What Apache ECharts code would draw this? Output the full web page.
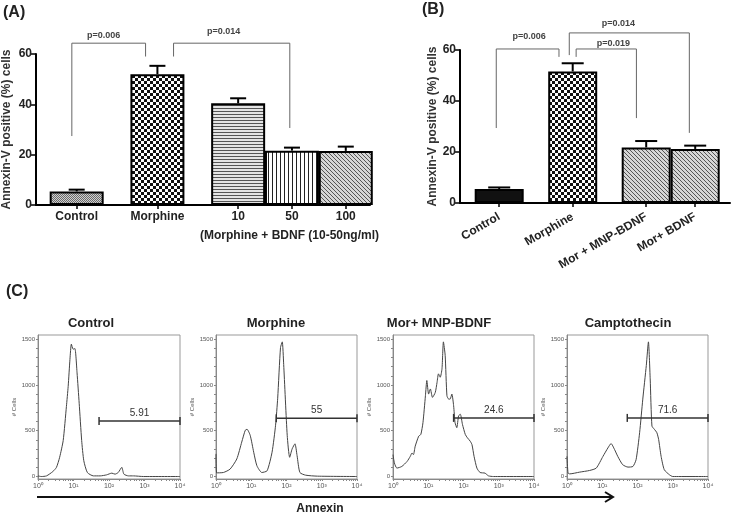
<!DOCTYPE html>
<html>
<head>
<meta charset="utf-8">
<script src="https://cdn.jsdelivr.net/npm/echarts@6/dist/echarts.min.js"></script>
<style>
  html, body { margin: 0; padding: 0; background: #fff; }
  #chart { width: 736px; height: 514px; }
</style>
</head>
<body>
<div id="chart"></div>
<script>
// ---- data ----
// (A) Annexin-V positive cells, mean and SEM
var catsA = ['Control', 'Morphine', '10', '50', '100'];
var meanA = [5.4, 52.0, 40.4, 21.6, 21.5];
var semA = [0.7, 3.3, 2.0, 1.2, 1.7];
var pTextA = ['p=0.006', 'p=0.014'];

// (B)
var catsB = ['Control', 'Morphine', 'Mor + MNP-BDNF', 'Mor+ BDNF'];
var meanB = [5.5, 51.6, 21.8, 21.2];
var semB = [0.6, 3.2, 2.5, 1.3];
var pTextB = ['p=0.006', 'p=0.019', 'p=0.014'];

// (C) flow histograms, x = log10(Annexin), y = # cells
var histControl = [[0,7],[0.09,0],[0.24,7],[0.42,55],[0.52,100],[0.61,210],[0.71,394],[0.8,763],[0.85,984],[0.9,1279],[0.94,1445],[0.99,1390],[1.04,1397],[1.1,1132],[1.16,800],[1.23,394],[1.29,173],[1.39,44],[1.56,7],[1.75,7],[1.93,18],[2.08,37],[2.17,26],[2.26,44],[2.36,100],[2.42,26],[2.55,7],[2.69,7],[2.97,0],[4,0]];
var histMorphine = [[0,247],[0.02,40],[0.21,44],[0.4,81],[0.59,192],[0.73,376],[0.83,505],[0.88,516],[0.97,450],[1.07,265],[1.16,118],[1.3,44],[1.45,63],[1.59,265],[1.69,560],[1.75,855],[1.83,1408],[1.88,1470],[1.92,1224],[2.02,450],[2.09,210],[2.16,302],[2.24,357],[2.3,228],[2.38,44],[2.54,15],[2.88,4],[4,0]];
var histMnp = [[0,239],[0.04,147],[0.11,92],[0.25,110],[0.4,165],[0.49,220],[0.54,257],[0.58,239],[0.63,331],[0.73,441],[0.79,460],[0.85,588],[0.92,882],[0.96,1048],[1.01,900],[1.06,956],[1.12,864],[1.2,919],[1.25,1029],[1.29,1121],[1.34,1084],[1.39,1176],[1.43,1470],[1.48,1323],[1.53,882],[1.58,845],[1.62,845],[1.67,900],[1.72,772],[1.76,588],[1.81,533],[1.86,662],[1.91,680],[1.97,570],[2.05,460],[2.11,423],[2.19,386],[2.24,349],[2.3,220],[2.38,92],[2.47,44],[2.61,37],[2.71,7],[2.85,0],[4,0]];
var histCampto = [[0,220],[0.03,37],[0.08,29],[0.36,48],[0.64,66],[0.83,92],[1.02,220],[1.16,312],[1.25,360],[1.35,294],[1.44,220],[1.58,129],[1.73,103],[1.87,110],[1.96,184],[2.06,478],[2.15,845],[2.25,1213],[2.31,1470],[2.36,1066],[2.41,551],[2.48,515],[2.55,478],[2.6,404],[2.67,220],[2.76,74],[2.91,18],[3.0,0],[4,0]];
var histTitles = ['Control', 'Morphine', 'Mor+ MNP-BDNF', 'Camptothecin'];
var gateLabels = ['5.91', '55', '24.6', '71.6'];
var gateFrom = [1.72, 1.71, 1.72, 1.71];
var gateLevel = [605, 636, 640, 640];

// ---- layout ----
var FONT = 'Liberation Sans, Arial, sans-serif';
var slotA = [0, 1.5, 3, 4, 5];      // bar slots, in bar widths
var slotB = [0, 1.5, 3, 4];
// bracket: [xLeft, xRight, yTop, yLeftEnd, yRightEnd, textX, textY]
var bracketA = [[-0.09, 1.28, 64.3, 27.4, 59, 0.5, 67.5], [1.8, 3.96, 64.3, 59, 30.6, 2.73, 69]];
var bracketB = [[-0.06, 1.22, 60.4, 29.4, 57.3, 0.61, 65.1], [1.57, 2.8, 60.4, 57.3, 33.3, 2.33, 62.4], [1.43, 3.88, 66.7, 58, 27.5, 2.43, 70.2]];
var histGrids = [[38, 142], [216, 141], [393, 141], [567, 141]];
var histTitleX = [91, 276, 439, 628];

function pattern(w, h, bg, draw) {
    var c = document.createElement('canvas');
    c.width = w; c.height = h;
    var ctx = c.getContext('2d');
    ctx.fillStyle = bg;
    ctx.fillRect(0, 0, w, h);
    draw(ctx);
    return { image: c, repeat: 'repeat' };
}
var fine = pattern(2, 2, '#cfcfcf', function (c) { c.fillStyle = '#6a6a6a'; c.fillRect(0, 0, 1, 1); c.fillRect(1, 1, 1, 1); });
var checker = pattern(6, 6, '#111', function (c) { c.fillStyle = '#fff'; c.fillRect(0, 0, 3, 3); c.fillRect(3, 3, 3, 3); });
var horiz = pattern(1, 3, '#e4e4e4', function (c) { c.fillStyle = '#555'; c.fillRect(0, 0, 1, 1); });
var vert = pattern(4, 1, '#fff', function (c) { c.fillStyle = '#222'; c.fillRect(0, 0, 1, 1); });
var hatch = pattern(4, 4, '#d6d6d6', function (c) { c.fillStyle = '#555'; for (var i = 0; i < 4; i++) c.fillRect(i, i, 1, 1); });
var fillA = [fine, checker, horiz, vert, hatch];
var fillB = ['#111', checker, hatch, hatch];

var sup = ['\u2070', '\u00b9', '\u00b2', '\u00b3', '\u2074'];
var logTicks = [];
for (var d = 0; d < 4; d++) for (var k = 1; k < 10; k++) logTicks.push(d + Math.log10(k));
logTicks.push(4);

function errRender(cap) {
    return function (params, api) {
        var a = api.coord([api.value(0), api.value(1)]);
        var b = api.coord([api.value(0), api.value(1) + api.value(2)]);
        var st = { stroke: '#000', lineWidth: 2 };
        return { type: 'group', children: [
            { type: 'line', shape: { x1: a[0], y1: a[1], x2: b[0], y2: b[1] }, style: st },
            { type: 'line', shape: { x1: b[0] - cap, y1: b[1], x2: b[0] + cap, y2: b[1] }, style: st }
        ] };
    };
}
function bracketRender(texts) {
    return function (params, api) {
        var v = [0, 1, 2, 3, 4, 5, 6].map(function (i) { return api.value(i); });
        var p1 = api.coord([v[0], v[3]]), p2 = api.coord([v[0], v[2]]);
        var p3 = api.coord([v[1], v[2]]), p4 = api.coord([v[1], v[4]]);
        var t = api.coord([v[5], v[6]]);
        return { type: 'group', children: [
            { type: 'polyline', shape: { points: [p1, p2, p3, p4] }, style: { stroke: '#666', lineWidth: 1, fill: null } },
            { type: 'text', x: t[0], y: t[1], style: { text: texts[params.dataIndex], font: 'bold 9px ' + FONT, fill: '#444', align: 'center', verticalAlign: 'middle' } }
        ] };
    };
}
function gateRender(params, api) {
    var a = api.coord([api.value(0), api.value(2)]);
    var b = api.coord([api.value(1), api.value(2)]);
    var st = { stroke: '#333', lineWidth: 1.5 };
    return { type: 'group', children: [
        { type: 'line', shape: { x1: a[0], y1: a[1], x2: b[0], y2: b[1] }, style: st },
        { type: 'line', shape: { x1: a[0], y1: a[1] - 4, x2: a[0], y2: a[1] + 4 }, style: st },
        { type: 'line', shape: { x1: b[0], y1: b[1] - 4, x2: b[0], y2: b[1] + 4 }, style: st },
        { type: 'text', x: (a[0] + b[0]) / 2, y: a[1] - 8, style: { text: gateLabels[params.seriesIndex - gateSeriesStart], font: '10px ' + FONT, fill: '#333', align: 'center', verticalAlign: 'middle' } }
    ] };
}

var boldLabel = { fontFamily: FONT, fontWeight: 'bold', fontSize: 12, color: '#222' };
var yNameStyle = { fontFamily: FONT, fontWeight: 'bold', fontSize: 12, color: '#333' };

var grids = [
    { left: 32, top: 54, width: 338, height: 151 },
    { left: 460, top: 50, width: 270, height: 153 }
];
histGrids.forEach(function (g) {
    grids.push({ left: g[0], width: g[1], top: 335, height: 144, show: true, borderColor: '#999', borderWidth: 1 });
});

var xAxes = [
    { gridIndex: 0, type: 'value', min: -0.756, max: 5.45, splitLine: { show: false },
      axisLine: { onZero: false, lineStyle: { color: '#000', width: 2 } }, axisLabel: { show: false },
      axisTick: { customValues: slotA, length: 4, lineStyle: { color: '#000', width: 1.5 } } },
    { gridIndex: 1, type: 'value', min: -0.8, max: 4.71, splitLine: { show: false },
      axisLine: { onZero: false, lineStyle: { color: '#000', width: 2 } }, axisLabel: { show: false },
      axisTick: { customValues: slotB, length: 4, lineStyle: { color: '#000', width: 1.5 } } }
];
var yAxes = [
    { gridIndex: 0, type: 'value', min: 0, max: 60, interval: 20, splitLine: { show: false },
      axisLine: { show: true, onZero: false, lineStyle: { color: '#000', width: 2 } },
      axisTick: { show: true, length: 5, lineStyle: { color: '#000', width: 1.5 } },
      axisLabel: Object.assign({ margin: 4 }, boldLabel),
      name: 'Annexin-V positive (%) cells', nameLocation: 'middle', nameGap: 23, nameTextStyle: yNameStyle },
    { gridIndex: 1, type: 'value', min: 0, max: 60, interval: 20, splitLine: { show: false },
      axisLine: { show: true, onZero: false, lineStyle: { color: '#000', width: 2 } },
      axisTick: { show: true, length: 5, lineStyle: { color: '#000', width: 1.5 } },
      axisLabel: Object.assign({ margin: 4 }, boldLabel),
      name: 'Annexin-V positive (%) cells', nameLocation: 'middle', nameGap: 20, nameTextStyle: yNameStyle }
];
histGrids.forEach(function (g, i) {
    xAxes.push({ gridIndex: i + 2, type: 'value', min: 0, max: 4, splitLine: { show: false },
        axisLine: { onZero: false, lineStyle: { color: '#888', width: 1 } },
        axisTick: { customValues: logTicks, length: 2, lineStyle: { color: '#888' } },
        axisLabel: { customValues: [0, 1, 2, 3, 4], margin: 4, fontSize: 7, color: '#555', fontFamily: FONT,
                     formatter: function (v) { return '10' + sup[Math.round(v)]; } } });
    yAxes.push({ gridIndex: i + 2, type: 'value', min: -27, max: 1545, splitLine: { show: false },
        axisLine: { show: true, onZero: false, lineStyle: { color: '#888', width: 1 } },
        axisTick: { show: true, customValues: [0, 100, 200, 300, 400, 500, 600, 700, 800, 900, 1000, 1100, 1200, 1300, 1400, 1500], length: 2, lineStyle: { color: '#888' } },
        axisLabel: { customValues: [0, 500, 1000, 1500], margin: 3, fontSize: 6, color: '#555', fontFamily: FONT,
                     formatter: function (v) { return String(v); } },
        name: '# Cells', nameLocation: 'middle', nameGap: 20,
        nameTextStyle: { fontSize: 6, color: '#555', fontFamily: FONT } });
});

var series = [
    { type: 'bar', xAxisIndex: 0, yAxisIndex: 0, barWidth: 54,
      itemStyle: { borderColor: '#000', borderWidth: 2 },
      label: Object.assign({ show: true, position: 'bottom', distance: 6, formatter: function (p) { return p.name; } }, boldLabel),
      data: meanA.map(function (v, i) { return { name: catsA[i], value: [slotA[i], v], itemStyle: { color: fillA[i] } }; }) },
    { type: 'custom', xAxisIndex: 0, yAxisIndex: 0, z: 5, renderItem: errRender(8),
      data: meanA.map(function (v, i) { return [slotA[i], v, semA[i]]; }) },
    { type: 'custom', xAxisIndex: 0, yAxisIndex: 0, z: 5, clip: false, renderItem: bracketRender(pTextA), data: bracketA },
    { type: 'bar', xAxisIndex: 1, yAxisIndex: 1, barWidth: 49,
      itemStyle: { borderColor: '#000', borderWidth: 2 },
      label: Object.assign({ show: true, position: 'bottom', distance: 13, rotate: 30, align: 'right', verticalAlign: 'middle',
                             formatter: function (p) { return p.name; } }, boldLabel),
      data: meanB.map(function (v, i) { return { name: catsB[i], value: [slotB[i], v], itemStyle: { color: fillB[i] } }; }) },
    { type: 'custom', xAxisIndex: 1, yAxisIndex: 1, z: 5, renderItem: errRender(11),
      data: meanB.map(function (v, i) { return [slotB[i], v, semB[i]]; }) },
    { type: 'custom', xAxisIndex: 1, yAxisIndex: 1, z: 5, clip: false, renderItem: bracketRender(pTextB), data: bracketB }
];
var hists = [histControl, histMorphine, histMnp, histCampto];
hists.forEach(function (h, i) {
    series.push({ type: 'line', xAxisIndex: i + 2, yAxisIndex: i + 2, data: h, showSymbol: false, smooth: 0.2,
                  lineStyle: { color: '#444', width: 1 } });
});
var gateSeriesStart = series.length;
hists.forEach(function (h, i) {
    series.push({ type: 'custom', xAxisIndex: i + 2, yAxisIndex: i + 2, z: 5,
                  renderItem: gateRender, data: [[gateFrom[i], 4, gateLevel[i]]] });
});

var graphic = [
    { type: 'text', x: 3, y: 13, style: { text: '(A)', font: 'bold 16px ' + FONT, fill: '#222', verticalAlign: 'middle' } },
    { type: 'text', x: 422, y: 10, style: { text: '(B)', font: 'bold 16px ' + FONT, fill: '#222', verticalAlign: 'middle' } },
    { type: 'text', x: 6, y: 292, style: { text: '(C)', font: 'bold 16px ' + FONT, fill: '#222', verticalAlign: 'middle' } },
    { type: 'text', x: 200, y: 236, style: { text: '(Morphine + BDNF (10-50ng/ml)', font: 'bold 12px ' + FONT, fill: '#222', verticalAlign: 'middle' } },
    { type: 'polyline', shape: { points: [[37, 497], [612, 497]] }, style: { stroke: '#111', lineWidth: 2 } },
    { type: 'polyline', shape: { points: [[605, 492], [613, 497], [605, 502]] }, style: { stroke: '#111', lineWidth: 2, fill: null } },
    { type: 'text', x: 320, y: 509, style: { text: 'Annexin', font: 'bold 12px ' + FONT, fill: '#222', align: 'center', verticalAlign: 'middle' } }
];
histTitles.forEach(function (t, i) {
    graphic.push({ type: 'text', x: histTitleX[i], y: 323, style: { text: t, font: 'bold 13px ' + FONT, fill: '#222', align: 'center', verticalAlign: 'middle' } });
});

var chart = echarts.init(document.getElementById('chart'), null, { renderer: 'canvas' });
chart.setOption({
    backgroundColor: '#ffffff',
    animation: false,
    textStyle: { fontFamily: FONT },
    grid: grids,
    xAxis: xAxes,
    yAxis: yAxes,
    series: series,
    graphic: graphic
});
</script>
</body>
</html>
